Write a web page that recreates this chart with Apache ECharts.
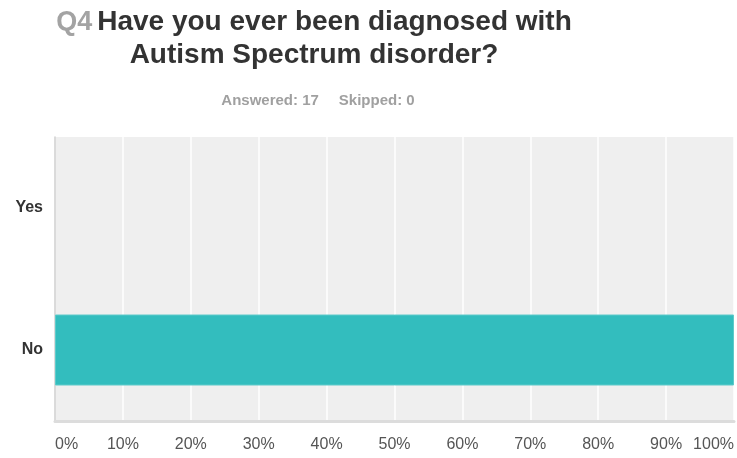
<!DOCTYPE html>
<html>
<head>
<meta charset="utf-8">
<script src="https://cdn.jsdelivr.net/npm/echarts@6/dist/echarts.min.js"></script>
<style>
  html, body { margin: 0; padding: 0; background: #fff; }
  #chart { width: 737px; height: 458px; }
</style>
</head>
<body>
<div id="chart"></div>
<script>
// Survey question and response summary
const questionNo = 'Q4';
const questionLines = ['Have you ever been diagnosed with', 'Autism Spectrum disorder?'];
const answered = 17;
const skipped = 0;

// Answer choices and share of respondents (%)
const choices = ['Yes', 'No'];
const percentages = [0, 100];

const FONT = 'Liberation Sans, Arial, Helvetica, sans-serif';
const chart = echarts.init(document.getElementById('chart'));

chart.setOption({
  animation: false,
  backgroundColor: '#ffffff',
  title: [
    {
      text: '{q|' + questionNo + '} {m|' + questionLines[0] + '}\n{m|' + questionLines[1] + '}',
      left: 314,
      top: 6,
      padding: 0,
      textAlign: 'center',
      textStyle: {
        rich: {
          q: { fontFamily: FONT, fontSize: 27, fontWeight: 'bold', color: '#a3a3a3', lineHeight: 33 },
          m: { fontFamily: FONT, fontSize: 28, fontWeight: 'bold', color: '#333333', lineHeight: 33 }
        }
      }
    },
    {
      text: '{a|Answered: ' + answered + '}{b|Skipped: ' + skipped + '}',
      left: 318,
      top: 93,
      padding: 0,
      textAlign: 'center',
      textStyle: {
        rich: {
          a: { fontFamily: FONT, fontSize: 15, fontWeight: 'bold', color: '#a0a0a0' },
          b: { fontFamily: FONT, fontSize: 15, fontWeight: 'bold', color: '#a0a0a0', padding: [0, 0, 0, 20] }
        }
      }
    }
  ],
  grid: {
    left: 55, right: 2, top: 137, bottom: 37,
    show: true,
    backgroundColor: '#efefef',
    borderWidth: 0
  },
  xAxis: {
    type: 'value',
    min: 0,
    max: 100,
    interval: 10,
    axisLine: { show: true, lineStyle: { color: '#dcdcdc', width: 3 } },
    axisTick: { show: false },
    splitLine: { show: true, lineStyle: { color: '#ffffff', width: 1.5 } },
    axisLabel: {
      formatter: '{value}%',
      margin: 16,
      alignMinLabel: 'left',
      alignMaxLabel: 'right',
      fontFamily: FONT,
      fontSize: 16,
      color: '#555555'
    }
  },
  yAxis: {
    type: 'category',
    data: choices,
    inverse: true,
    axisLine: { show: true, lineStyle: { color: '#cfcfcf', width: 1.5 } },
    axisTick: { show: false },
    splitLine: { show: false },
    axisLabel: {
      margin: 12,
      fontFamily: FONT,
      fontSize: 16,
      fontWeight: 'bold',
      color: '#333333'
    }
  },
  series: [{
    type: 'bar',
    // outline only on bars that actually have a length
    data: percentages.map(v => ({
      value: v,
      itemStyle: v > 0 ? { borderColor: '#5fcaca', borderWidth: 1 } : { borderWidth: 0 }
    })),
    barWidth: '50%',
    itemStyle: { color: '#33bdbe' },
    silent: true
  }]
});
</script>
</body>
</html>
